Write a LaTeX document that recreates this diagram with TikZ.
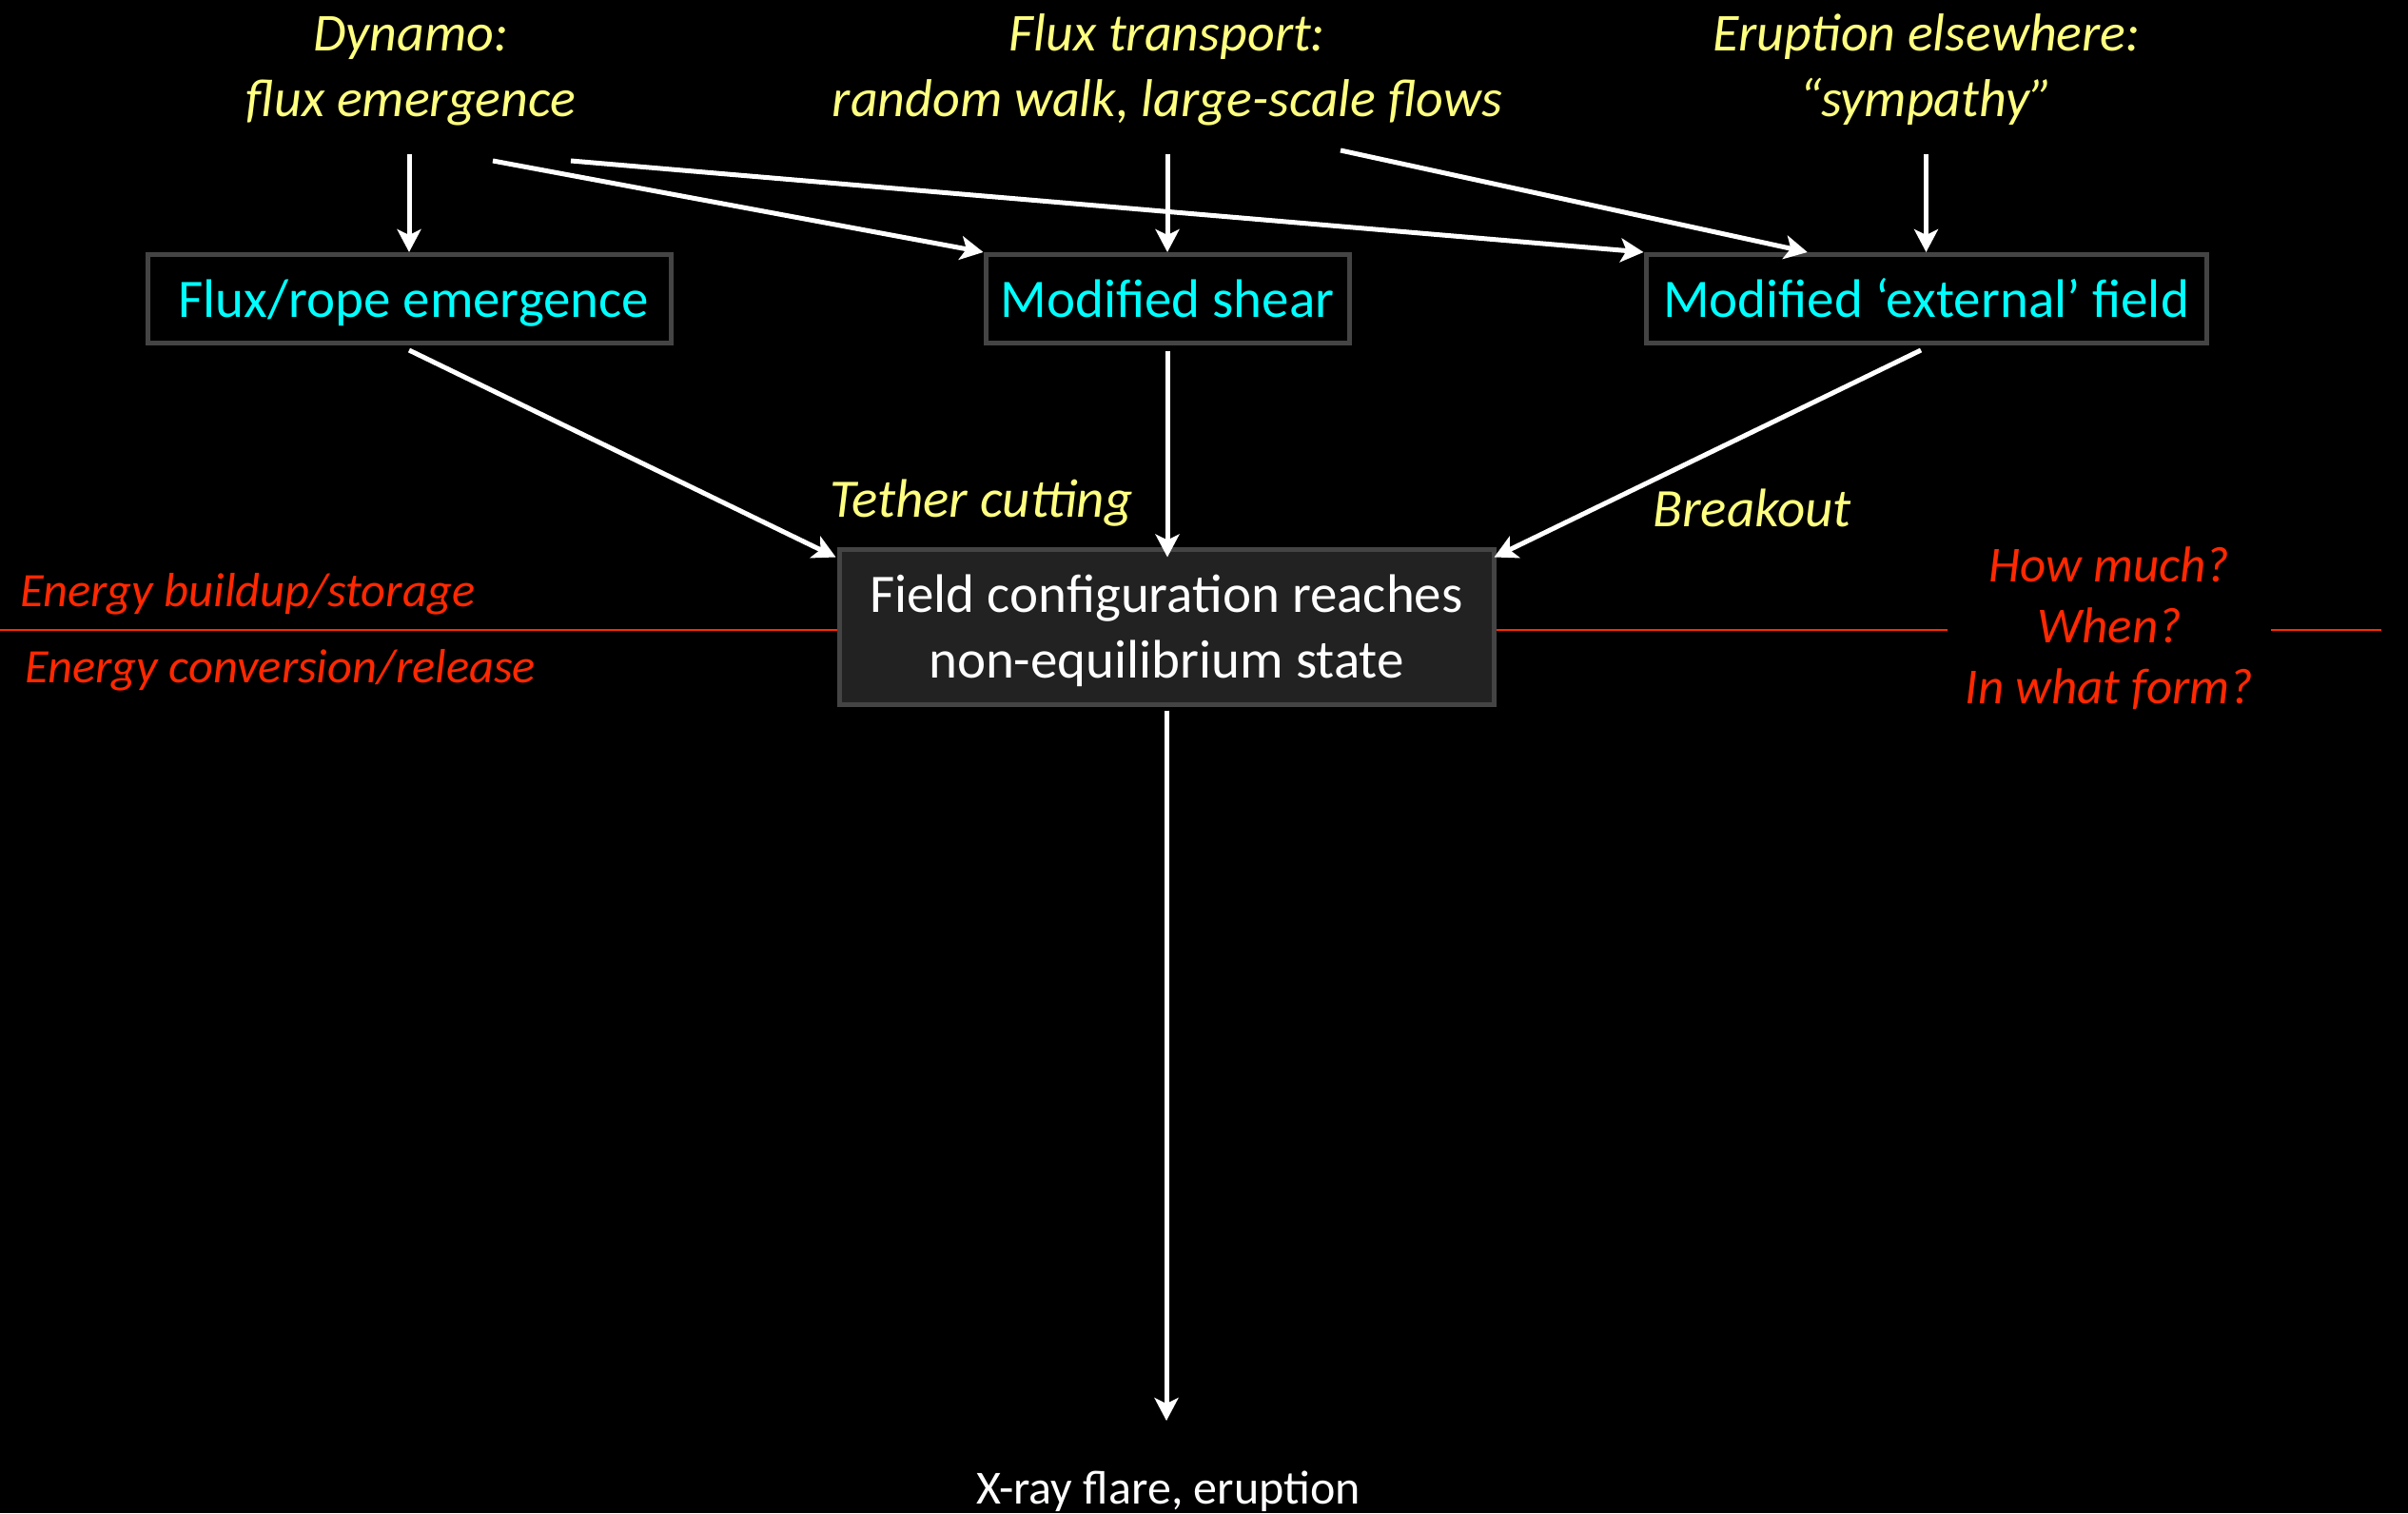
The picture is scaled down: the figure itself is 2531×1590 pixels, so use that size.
\documentclass[tikz,border=0pt]{standalone}
\usepackage{fontspec}
\setmainfont{Carlito}
\usetikzlibrary{arrows.meta,calc}

\definecolor{labelyellow}{RGB}{255,255,128}
\definecolor{boxcyan}{RGB}{0,255,255}
\definecolor{notered}{RGB}{255,40,0}
\definecolor{boxedge}{RGB}{68,68,68}
\definecolor{boxfill}{RGB}{34,34,34}

\begin{document}
\begin{tikzpicture}[x=1pt,y=-1pt,
  srclabel/.style={text=labelyellow, font=\fontsize{56}{69}\selectfont\itshape,
    align=center, inner sep=0pt, anchor=base},
  mechlabel/.style={text=labelyellow, font=\fontsize{57}{69}\selectfont\itshape,
    inner sep=0pt, anchor=base west},
  phase/.style={text=notered, font=\fontsize{50.5}{69}\selectfont\itshape,
    inner sep=0pt, anchor=base west},
  question/.style={text=notered, font=\fontsize{53}{64}\selectfont\itshape,
    align=center, inner sep=0pt, anchor=base},
  driver/.style={draw=boxedge, line width=5pt, text=boxcyan,
    font=\fontsize{57}{69}\selectfont, minimum height=93pt, inner sep=0pt,
    text height=38pt, text depth=0pt},
  statebox/.style={draw=boxedge, fill=boxfill, line width=5pt, text=white,
    font=\fontsize{57}{69}\selectfont, align=center, minimum width=688pt,
    minimum height=163pt, inner sep=0pt, text height=107pt, text depth=0pt},
  flow/.style={draw=white, line width=5pt,
    -{Stealth[length=24pt,width=25pt,inset=6pt]}},
  divider/.style={draw=notered, line width=2.5pt}]

% canvas
\fill[black] (0,0) rectangle (2531,1590);
\useasboundingbox (0,0) rectangle (2531,1590);

% buildup / release divider (the state box is drawn over it)
\coordinate (leftEdge) at (0,662);
\coordinate (gapL) at (2047,662);
\coordinate (gapR) at (2387,662);
\coordinate (rightEnd) at (2503,662);
\draw[divider] (leftEdge) -- (gapL);
\draw[divider] (gapR) -- (rightEnd);

% drivers
\node[srclabel] (dynamo) at (432,122) {Dynamo:\\flux emergence};
\node[srclabel] (transport) at (1227,122) {Flux transport:\\random walk, large-scale flows};
\node[srclabel] (sympathy) at (2025,122) {Eruption elsewhere:\\“sympathy”};

\coordinate (dynamoFoot) at (430,162);
\coordinate (dynamoFootB) at (518,169);
\coordinate (dynamoFootC) at (600,169);
\coordinate (transportFoot) at (1227,162);
\coordinate (transportFootB) at (1409,158);
\coordinate (sympathyFoot) at (2024.5,162);

% changes in the field
\node[driver, minimum width=550pt] (rope) at (430,314) {\hspace{10pt}Flux/rope emergence};
\node[driver, minimum width=382pt] (shear) at (1227,314) {Modified shear};
\node[driver, minimum width=589pt] (external) at (2024.5,314) {Modified ‘external’ field};

% the critical state
\node[statebox] (state) at (1226,658.5) {Field configuration reaches\\non-equilibrium state};

% mechanisms and phases
\node[mechlabel] (tether) at (872,543) {Tether cutting};
\node[mechlabel] (breakout) at (1737,553) {Breakout};
\node[phase] (buildup) at (21,637) {Energy buildup/storage};
\node[phase] (release) at (26,717) {Energy conversion/release};
\node[question] (questions) at (2217,739) {How much?\\When?\\In what form?};

% outcome
\node[text=white, font=\fontsize{50}{60}\selectfont, inner sep=0pt, anchor=base]
  (flare) at (1228,1580) {X-ray flare, eruption};
\coordinate (flareHead) at (1226,1493);

% connectors
\draw[flow] (dynamoFoot) -- (rope.north);
\draw[flow] (dynamoFootB) -- (shear.north west);
\draw[flow] (dynamoFootC) -- (external.north west);
\draw[flow] (transportFoot) -- (shear.north);
\draw[flow] (transportFootB) -- ($(external.north west)!0.29!(external.north east)$);
\draw[flow] (sympathyFoot) -- (external.north);

\draw[flow] ([yshift=-5pt]rope.south) -- ([xshift=-1pt,yshift=-11pt]state.north west);
\draw[flow] ([yshift=-6pt]shear.south) -- ([yshift=-11pt]shear.south |- state.north);
\draw[flow] ([xshift=-5.5pt,yshift=-5pt]external.south) -- ([xshift=-2pt,yshift=-11pt]state.north east);
\draw[flow] ([yshift=-4pt]state.south) -- (flareHead);

\end{tikzpicture}
\end{document}
